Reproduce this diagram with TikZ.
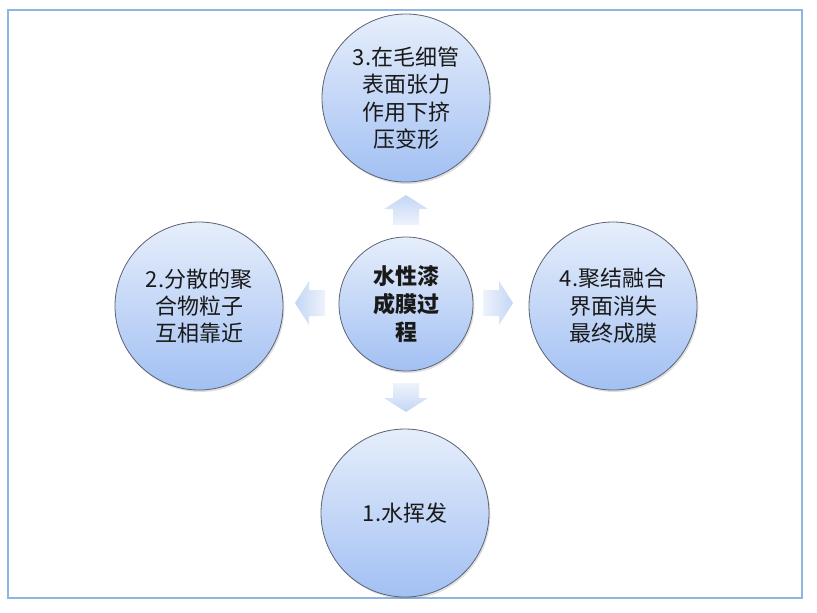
\documentclass[tikz,border=0pt]{standalone}
\usepackage{fontspec}
\setmainfont{Noto Sans CJK SC}
\usetikzlibrary{shadows}
\definecolor{frame}{HTML}{8DB6E6}
\definecolor{ctop}{HTML}{E6EEFB}
\definecolor{cbot}{HTML}{A2C0F3}
\definecolor{cedge}{HTML}{5C6272}
\definecolor{adark}{HTML}{C3D6F5}
\definecolor{alight}{HTML}{EEF3FC}
\tikzset{
  stage/.style={circle, minimum size=168*0.75pt, inner sep=0pt, draw=cedge, line width=0.6pt,
    top color=ctop, bottom color=cbot, align=center, font=\fontsize{16.5}{20.5}\selectfont,
    text=black!90, drop shadow={shadow xshift=1pt, shadow yshift=-1.5pt, opacity=0.25}},
  hub/.style={stage, minimum size=134*0.75pt, font=\bfseries\fontsize{16.5}{21}\selectfont},
  blockarrow/.style={draw=none}
}
\begin{document}
\begin{tikzpicture}[x=0.75pt, y=-0.75pt]
\useasboundingbox (0,0) rectangle (817,612);
\draw[frame, line width=1.2pt] (8,10) rectangle (802,598);

\node[hub] (c) at (406,304) {水性漆\\成膜过\\程};
\node[stage] (s3) at (406,98) {3.在毛细管\\表面张力\\作用下挤\\压变形};
\node[stage] (s2) at (199,306) {2.分散的聚\\合物粒子\\互相靠近};
\node[stage] (s4) at (613,306) {4.聚结融合\\界面消失\\最终成膜};
\node[stage] (s1) at (405,513) {1.水挥发};

% block arrows
\path[top color=adark, bottom color=alight] (406,195) -- (428,209) -- (419,209) -- (419,225) -- (393,225) -- (393,209) -- (384,209) -- cycle;
\path[top color=alight, bottom color=adark] (406,412) -- (428,398) -- (419,398) -- (419,383) -- (393,383) -- (393,398) -- (384,398) -- cycle;
\path[left color=adark, right color=alight] (295,303) -- (309,281) -- (309,290) -- (325,290) -- (325,316) -- (309,316) -- (309,325) -- cycle;
\path[left color=alight, right color=adark] (513,303) -- (499,281) -- (499,290) -- (483,290) -- (483,316) -- (499,316) -- (499,325) -- cycle;
\end{tikzpicture}
\end{document}
